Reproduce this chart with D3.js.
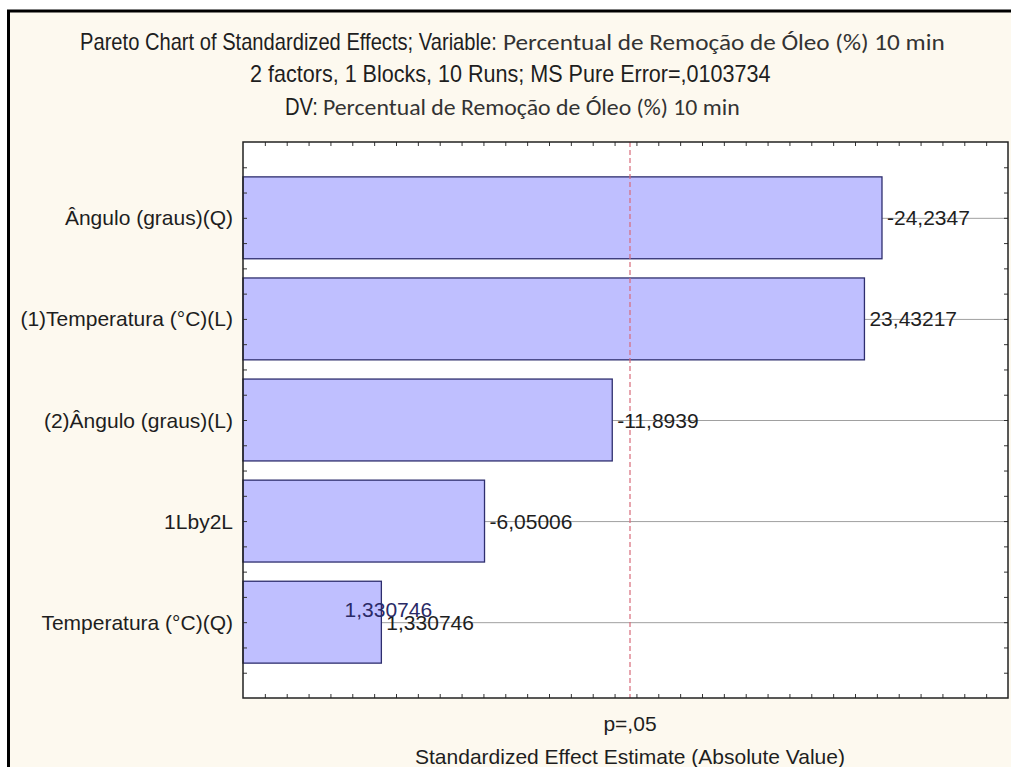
<!DOCTYPE html>
<html>
<head>
<meta charset="utf-8">
<script src="https://cdn.jsdelivr.net/npm/d3@7"></script>
<style>
  html, body { margin: 0; padding: 0; background: #ffffff; }
  svg { display: block; }
</style>
</head>
<body>
<svg id="chart" width="1011" height="767"></svg>
<script>
// Effects in Pareto order (largest absolute effect first)
const effects = [
  "Ângulo (graus)(Q)",
  "(1)Temperatura (°C)(L)",
  "(2)Ângulo (graus)(L)",
  "1Lby2L",
  "Temperatura (°C)(Q)"
];
// Standardized effect estimates (t values, signed)
const estimates = [-24.2347, 23.43217, -11.8939, -6.05006, 1.330746];
// Critical t for p = .05 (pure error, 1 df)
const pCritical = 12.706;
const pLabel = "p=,05";

// Title lines: [Arial-like part, Calibri-like part]
const titleLines = [
  ["Pareto Chart of Standardized Effects; Variable:", "Percentual de Remoção de Óleo (%) 10 min"],
  ["2 factors, 1 Blocks, 10 Runs; MS Pure Error=,0103734", ""],
  ["DV:", "Percentual de Remoção de Óleo (%) 10 min"]
];
const xAxisTitle = "Standardized Effect Estimate (Absolute Value)";

// ---- layout ----
const W = 1011, H = 767;
const plot = { left: 243, top: 142, right: 1008, bottom: 698 };
const cream = "#fdf9ef";
const barFill = "#bfbfff";
const barStroke = "#2e2e6e";
const textColor = "#1e1e1e";
const sans = "Arial, 'Liberation Sans', sans-serif";
const calibriLike = "Carlito, Lato, 'Open Sans', sans-serif";

// Portuguese-style number formatting (decimal comma, plain hyphen minus)
const ptLocale = d3.formatLocale({ decimal: ",", thousands: ".", grouping: [3], currency: ["", ""], minus: "-" });
const fmt = ptLocale.format(".7~g");

const svg = d3.select("#chart");

// outer frame with cream background
svg.append("rect")
  .attr("x", 8.5).attr("y", 11)
  .attr("width", W + 40).attr("height", H + 40)
  .attr("fill", cream)
  .attr("stroke", "#000").attr("stroke-width", 3);

const x = d3.scaleLinear().domain([-5, 30]).range([plot.left, plot.right]);
const y = d3.scaleLinear().domain([0, 5.5]).range([plot.top, plot.bottom]);
const pos = i => i + 0.75;     // category centre in y units
const barThick = 0.81;          // bar thickness in y units

// plot background
svg.append("rect")
  .attr("x", plot.left).attr("y", plot.top)
  .attr("width", plot.right - plot.left).attr("height", plot.bottom - plot.top)
  .attr("fill", "#ffffff");

// horizontal grid lines at each effect
svg.append("g").selectAll("line")
  .data(effects)
  .join("line")
  .attr("x1", plot.left).attr("x2", plot.right)
  .attr("y1", (d, i) => y(pos(i)) + 0.5).attr("y2", (d, i) => y(pos(i)) + 0.5)
  .attr("stroke", "#a0a0a0").attr("stroke-width", 1);

// bars (absolute effect)
svg.append("g").selectAll("rect")
  .data(estimates)
  .join("rect")
  .attr("x", x.range()[0])
  .attr("y", (d, i) => y(pos(i) - barThick / 2))
  .attr("width", d => x(Math.abs(d)) - x.range()[0])
  .attr("height", y(barThick) - y(0))
  .attr("fill", barFill)
  .attr("stroke", barStroke)
  .attr("stroke-width", 1.3);

// significance line
svg.append("line")
  .attr("x1", x(pCritical)).attr("x2", x(pCritical))
  .attr("y1", plot.top).attr("y2", plot.bottom)
  .attr("stroke", "#d86a7a").attr("stroke-width", 1.2)
  .attr("stroke-dasharray", "5,3");

// value labels
svg.append("g").selectAll("text")
  .data(estimates)
  .join("text")
  .attr("x", d => x(Math.abs(d)) + 5)
  .attr("y", (d, i) => y(pos(i)) + 7.5)
  .attr("font-family", sans).attr("font-size", 21)
  .attr("fill", textColor)
  .text(d => fmt(d));

// duplicated inner label on the smallest effect
const last = estimates.length - 1;
svg.append("text")
  .attr("x", x(Math.abs(estimates[last])) + 7)
  .attr("y", y(pos(last)) - 5)
  .attr("text-anchor", "middle")
  .attr("font-family", sans).attr("font-size", 21)
  .attr("fill", "#2a2a66")
  .text(fmt(estimates[last]));

// ticks (inward on all four sides)
const xTicks = d3.range(-4, 30);
const yTicks = d3.range(1, 22).map(k => k * 0.25);
function styleAxis(g) {
  g.select(".domain").remove();
  g.selectAll(".tick line").attr("stroke", "#333").attr("stroke-width", 1);
}
svg.append("g").attr("transform", `translate(0,${plot.bottom})`)
  .call(d3.axisBottom(x).tickValues(xTicks).tickSize(-4).tickFormat(""))
  .call(styleAxis);
svg.append("g").attr("transform", `translate(0,${plot.top})`)
  .call(d3.axisTop(x).tickValues(xTicks).tickSize(-4).tickFormat(""))
  .call(styleAxis);
svg.append("g").attr("transform", `translate(${plot.left},0)`)
  .call(d3.axisLeft(y).tickValues(yTicks).tickSize(-4).tickFormat(""))
  .call(styleAxis);
svg.append("g").attr("transform", `translate(${plot.right},0)`)
  .call(d3.axisRight(y).tickValues(yTicks).tickSize(-4).tickFormat(""))
  .call(styleAxis);

// plot frame
svg.append("rect")
  .attr("x", plot.left).attr("y", plot.top)
  .attr("width", plot.right - plot.left).attr("height", plot.bottom - plot.top)
  .attr("fill", "none").attr("stroke", "#222").attr("stroke-width", 1.5);

// effect names
svg.append("g").selectAll("text")
  .data(effects)
  .join("text")
  .attr("x", plot.left - 10)
  .attr("y", (d, i) => y(pos(i)) + 7.5)
  .attr("text-anchor", "end")
  .attr("font-family", sans).attr("font-size", 21)
  .attr("fill", textColor)
  .text(d => d);

// p = .05 marker and axis title
svg.append("text")
  .attr("x", x(pCritical)).attr("y", 731)
  .attr("text-anchor", "middle")
  .attr("font-family", sans).attr("font-size", 21)
  .attr("fill", textColor)
  .text(pLabel);
svg.append("text")
  .attr("x", 630).attr("y", 764)
  .attr("text-anchor", "middle")
  .attr("font-family", sans).attr("font-size", 21)
  .attr("fill", textColor)
  .text(xAxisTitle);

// title block: each part stretched to its own span [x0, x1], baseline
const titleSpans = [
  [[80, 497], [503, 945], 50],
  [[250, 771], null, 82],
  [[285, 318], [323, 740], 115]
];
function fitText(str, family, fill, span, base) {
  const t = svg.append("text").attr("x", 0).attr("y", base)
    .attr("font-size", 23).attr("font-family", family).attr("fill", fill).text(str);
  const bb = t.node().getBBox();
  const sx = (span[1] - span[0]) / bb.width;
  t.attr("transform", `translate(${span[0]},0) scale(${sx},1) translate(${-bb.x},0)`);
}
titleLines.forEach((parts, i) => {
  const [s0, s1, base] = titleSpans[i];
  fitText(parts[0], sans, textColor, s0, base);
  if (parts[1]) fitText(parts[1], calibriLike, "#333", s1, base);
});
</script>
</body>
</html>
